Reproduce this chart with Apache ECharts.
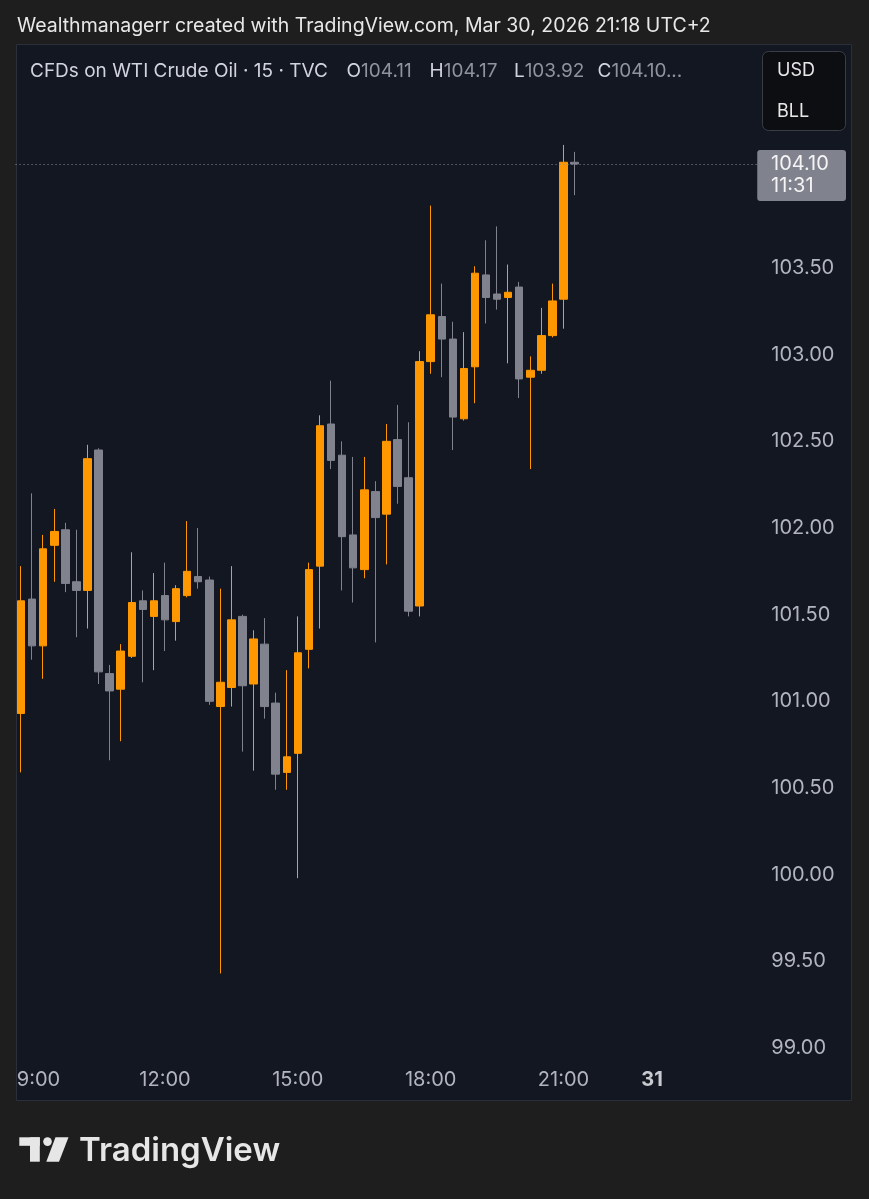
<!DOCTYPE html>
<html><head><meta charset="utf-8">
<script src="https://cdn.jsdelivr.net/npm/echarts@6/dist/echarts.min.js"></script>
<style>html,body{margin:0;padding:0;background:#1e1e1e;}#c{width:869px;height:1199px;}</style>
</head><body><div id="c"></div>
<script>
// ---- data (15-minute candles, Mar 30) ----
const times = ["08:45","09:00","09:15","09:30","09:45","10:00","10:15","10:30","10:45","11:00","11:15","11:30","11:45",
  "12:00","12:15","12:30","12:45","13:00","13:15","13:30","13:45","14:00","14:15","14:30","14:45",
  "15:00","15:15","15:30","15:45","16:00","16:15","16:30","16:45","17:00","17:15","17:30","17:45",
  "18:00","18:15","18:30","18:45","19:00","19:15","19:30","19:45","20:00","20:15","20:30","20:45",
  "21:00","21:15","21:30","21:45","22:00","22:15","22:30","22:45",
  "00:00","00:15","00:30","00:45","01:00","01:15","01:30","01:45","02:00","02:15"];
const opens  = [100.93,101.59,101.32,101.90,101.99,101.69,101.64,102.45,101.16,101.07,101.26,101.58,101.49,
  101.61,101.46,101.61,101.72,101.70,100.97,101.08,101.49,101.10,101.33,100.99,100.59,
  100.70,101.30,101.78,102.60,102.42,101.96,101.76,102.21,102.08,102.51,102.29,101.55,
  102.96,103.22,103.09,102.63,102.93,103.46,103.35,103.33,103.39,102.87,102.91,103.11,
  103.32,104.11];
const highs  = [101.78,102.20,101.96,102.11,102.03,101.99,102.48,102.46,101.21,101.33,101.86,101.64,101.74,
  101.80,101.67,102.04,102.00,101.72,101.65,101.78,101.50,101.41,101.48,101.05,101.18,
  101.49,101.80,102.65,102.85,102.50,102.41,102.41,102.27,102.60,102.71,102.61,103.02,
  103.86,103.41,103.19,103.13,103.51,103.66,103.74,103.52,103.42,102.99,103.27,103.41,
  104.21,104.17];
const lows   = [100.59,101.24,101.13,101.69,101.63,101.37,101.42,101.10,100.66,100.77,101.25,101.11,101.18,
  101.29,101.35,101.60,101.65,100.98,99.43,100.97,100.71,100.60,100.90,100.49,100.49,
  99.98,101.19,101.42,102.34,101.64,101.57,101.71,101.34,101.79,102.14,101.49,101.49,
  102.89,102.87,102.45,102.62,102.72,103.18,103.26,102.95,102.75,102.34,102.89,103.10,
  103.15,103.92];
const closes = [101.58,101.32,101.88,101.98,101.68,101.64,102.40,101.17,101.06,101.29,101.57,101.53,101.58,
  101.47,101.65,101.75,101.69,101.00,101.11,101.47,101.09,101.36,100.97,100.58,100.68,
  101.28,101.76,102.59,102.39,101.95,101.77,102.22,102.06,102.50,102.24,101.52,102.96,
  103.23,103.09,102.64,102.92,103.47,103.33,103.32,103.36,102.86,102.91,103.11,103.31,
  104.11,104.10];
const timeTicks = ["09:00","12:00","15:00","18:00","21:00","00:00"];
const dayLabels = {"00:00":"31"};
const lastPrice = 104.10;
const countdown = "11:31";
const headerTitle = "Wealthmanagerr created with TradingView.com, Mar 30, 2026 21:18 UTC+2";
const symbolLine = "CFDs on WTI Crude Oil · 15 · TVC";
const ohlcKeys = ["O","H","L","C"];
const ohlcVals = ["104.11","104.17","103.92","104.10..."];
const scaleButtons = ["USD","BLL"];
const brand = "TradingView";

// ---- chart ----
const FONT = 'Inter, "Noto Sans", sans-serif';
const UP = '#ff9800', DOWN = '#80838e';
const candles = opens.map((o, i) => [o, closes[i], lows[i], highs[i]]);
const band = 11.07;
const gridLeft = 21.09 - band / 2;

const chart = echarts.init(document.getElementById('c'), null, {renderer: 'canvas'});
chart.setOption({
  backgroundColor: '#1e1e1e',
  animation: false,
  grid: {left: gridLeft, top: 8, width: band * times.length, height: 1126.67, containLabel: false},
  xAxis: {
    type: 'category', data: times, boundaryGap: true,
    axisLine: {show: false}, axisTick: {show: false}, splitLine: {show: false},
    axisLabel: {
      interval: (idx, val) => timeTicks.includes(val),
      formatter: v => dayLabels[v] ? '{d|' + dayLabels[v] + '}' : v,
      color: '#b2b5be', fontFamily: FONT, fontSize: 20, margin: -54.2, verticalAlign: 'middle',
      rich: {d: {fontWeight: 'bold', fontSize: 20, color: '#c8cad0', fontFamily: FONT}}
    }
  },
  yAxis: {
    type: 'value', position: 'right', min: 98.5, max: 105, interval: 0.5, scale: true,
    axisLine: {show: false}, axisTick: {show: false}, splitLine: {show: false},
    axisLabel: {
      formatter: v => (v >= 99 && v <= 103.5) ? v.toFixed(2) : '',
      color: '#b2b5be', fontFamily: FONT, fontSize: 20, margin: 14, align: 'left'
    }
  },
  series: [{
    type: 'candlestick', data: candles, barWidth: 8,
    itemStyle: {color: UP, color0: DOWN, borderColor: UP, borderColor0: DOWN, borderWidth: 1},
    markLine: {
      silent: true, symbol: ['none', 'none'],
      lineStyle: {type: [1, 3], color: '#8a8d96', width: 1},
      label: {show: false},
      data: [{yAxis: lastPrice}]
    }
  }]
});

const py = chart.convertToPixel({yAxisIndex: 0}, lastPrice);
const plotRight = gridLeft + band * times.length;

chart.setOption({
  graphic: [
    {type: 'rect', z: -5, shape: {x: 16.5, y: 44.5, width: 835, height: 1056}, style: {fill: '#131722', stroke: '#2b2f3a', lineWidth: 1}},
    {type: 'rect', z: 100, shape: {x: 0, y: 1060, width: 16, height: 40}, style: {fill: '#1e1e1e'}},
    {type: 'text', z: 100, x: 17, y: 26, style: {text: headerTitle, fill: '#e8e8e8', font: '19.5px ' + FONT, verticalAlign: 'middle'}},
    {type: 'text', z: 100, x: 30, y: 71, style: {text: symbolLine, fill: '#d1d4dc', font: '19px ' + FONT, verticalAlign: 'middle'}},
    ...ohlcKeys.map((k, i) => ({
      type: 'text', z: 100, x: [346.5, 429.6, 513.9, 597.6][i], y: 71,
      style: {text: '{a|' + k + '}{b|' + ohlcVals[i] + '}', verticalAlign: 'middle',
        rich: {a: {fill: '#d1d4dc', fontSize: 19, fontFamily: FONT}, b: {fill: '#8f939d', fontSize: 19, fontFamily: FONT}}}
    })),
    {type: 'rect', z: 100, shape: {x: 762.5, y: 51.5, width: 83, height: 79, r: 6}, style: {fill: '#0d0e11', stroke: '#3a3d45', lineWidth: 1}},
    {type: 'text', z: 101, x: 777, y: 71, style: {text: scaleButtons[0], fill: '#e8e8e8', font: '18px ' + FONT, verticalAlign: 'middle'}},
    {type: 'text', z: 101, x: 777, y: 112, style: {text: scaleButtons[1], fill: '#e8e8e8', font: '18px ' + FONT, verticalAlign: 'middle'}},
    // last-price label
    {type: 'rect', z: 100, shape: {x: plotRight, y: py - 14, width: 846 - plotRight, height: 51, r: 3}, style: {fill: '#80838e'}},
    {type: 'text', z: 101, x: 771, y: py - 0.5, style: {text: lastPrice.toFixed(2), fill: '#f4f4f4', font: '20px ' + FONT, verticalAlign: 'middle'}},
    {type: 'text', z: 101, x: 771, y: py + 22, style: {text: countdown, fill: '#f4f4f4', font: '20px ' + FONT, verticalAlign: 'middle'}},
    // logo
    {type: 'rect', z: 100, shape: {x: 19.3, y: 1137.3, width: 20.5, height: 8.5}, style: {fill: '#e6e6e6'}},
    {type: 'rect', z: 100, shape: {x: 30, y: 1137.3, width: 9.8, height: 24.4}, style: {fill: '#e6e6e6'}},
    {type: 'circle', z: 100, shape: {cx: 47.5, cy: 1141.6, r: 4.3}, style: {fill: '#e6e6e6'}},
    {type: 'polygon', z: 100, shape: {points: [[55.5, 1137.3], [68.5, 1137.3], [59, 1161.7], [46.3, 1161.7]]}, style: {fill: '#e6e6e6'}},
    {type: 'text', z: 100, x: 79, y: 1151, style: {text: brand, fill: '#e6e6e6', font: '600 33px ' + FONT, verticalAlign: 'middle'}}
  ]
});
</script></body></html>
